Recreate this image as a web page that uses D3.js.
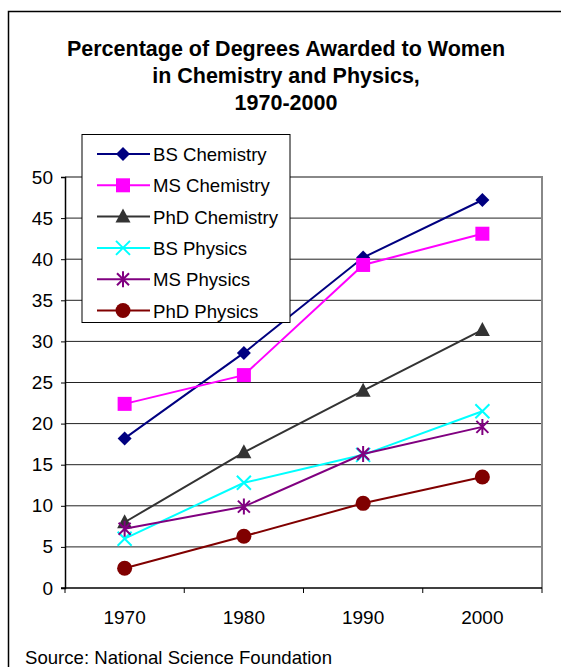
<!DOCTYPE html>
<html><head><meta charset="utf-8">
<script src="https://cdn.jsdelivr.net/npm/d3@7"></script>
<style>body{margin:0;background:#fff;}svg{display:block;font-family:"Liberation Sans",Arial,sans-serif;}</style>
</head><body>
<svg id="c" width="561" height="667"></svg>
<script>
const years = ["1970","1980","1990","2000"];
const seriesNames = ["BS Chemistry","MS Chemistry","PhD Chemistry","BS Physics","MS Physics","PhD Physics"];
const bsChemistry = [18.2, 28.6, 40.2, 47.2];
const msChemistry = [22.4, 25.9, 39.3, 43.1];
const phdChemistry = [8.0, 16.5, 24.0, 31.4];
const bsPhysics = [6.0, 12.8, 16.2, 21.5];
const msPhysics = [7.2, 9.9, 16.3, 19.6];
const phdPhysics = [2.4, 6.3, 10.3, 13.5];
const yTicks = [0,5,10,15,20,25,30,35,40,45,50];
const colors = ["#000080","#FF00FF","#333333","#00FFFF","#800080","#800000"];
const markers = ["diamond","square","triangle","x","star","circle"];
const titleLines = ["Percentage of Degrees Awarded to Women","in Chemistry and Physics,","1970-2000"];
const sourceText = "Source:  National Science Foundation";

const data = [bsChemistry, msChemistry, phdChemistry, bsPhysics, msPhysics, phdPhysics];

const svg = d3.select("#c");
svg.append("rect").attr("x",8.5).attr("y",11.5).attr("width",600).attr("height",700)
  .attr("fill","none").attr("stroke","#000").attr("stroke-width",1.5);

const L=65, R=542, T=177, B=588;
const x = d3.scaleBand().domain(years).range([L,R]);
const y = d3.scaleLinear().domain([0,50]).range([B,T]);

svg.append("g").selectAll("text").data(titleLines).join("text")
  .attr("x",286).attr("y",(d,i)=>55.5+i*27).attr("text-anchor","middle")
  .attr("font-size",21.5).attr("font-weight","bold").attr("fill","#000").text(d=>d);

svg.append("g").selectAll("line").data(yTicks.filter(v=>v>0)).join("line")
  .attr("x1",L).attr("x2",R).attr("y1",d=>y(d)).attr("y2",d=>y(d))
  .attr("stroke","#222").attr("stroke-width",1);
svg.append("path").attr("d",`M${L},${T}H${R}V${B}`).attr("fill","none").attr("stroke","#888").attr("stroke-width",2);

const yAxis = d3.axisLeft(y).tickValues(yTicks).tickSize(4).tickPadding(8).tickFormat(d3.format("d"));
const gy = svg.append("g").attr("transform",`translate(${L},0)`).call(yAxis);
gy.select(".domain").attr("stroke","#000").attr("stroke-width",1.5);
gy.selectAll(".tick line").attr("stroke","#000");
gy.selectAll("text").attr("font-size",19).attr("font-family","Liberation Sans, Arial, sans-serif").attr("fill","#000");

const xAxis = d3.axisBottom(x).tickSize(0).tickPadding(23);
const gx = svg.append("g").attr("transform",`translate(0,${B})`).call(xAxis);
gx.select(".domain").remove();
gx.selectAll("text").attr("font-size",19).attr("font-family","Liberation Sans, Arial, sans-serif").attr("fill","#000");
gx.append("line").attr("x1",L-4).attr("x2",R).attr("y1",0).attr("y2",0).attr("stroke","#000").attr("stroke-width",1.5);
const bounds = years.map(v=>x(v)).concat([R]);
gx.selectAll(".xt").data(bounds).join("line").attr("class","xt")
  .attr("x1",d=>d).attr("x2",d=>d).attr("y1",0).attr("y2",5).attr("stroke","#000");

function drawMarker(g, type, color, cx, cy){
  const s = g.append("g").attr("transform",`translate(${cx},${cy})`);
  if(type==="diamond") s.append("path").attr("d","M0,-7L7,0L0,7L-7,0Z").attr("fill",color);
  else if(type==="square") s.append("rect").attr("x",-7).attr("y",-7).attr("width",14).attr("height",14).attr("fill",color);
  else if(type==="triangle") s.append("path").attr("d","M0,-8L7.5,6L-7.5,6Z").attr("fill",color);
  else if(type==="x") s.append("path").attr("d","M-7,-7L7,7M-7,7L7,-7").attr("stroke",color).attr("stroke-width",2);
  else if(type==="star") s.append("path").attr("d","M-6,-6L6,6M-6,6L6,-6M0,-8V8").attr("stroke",color).attr("stroke-width",2);
  else if(type==="circle") s.append("circle").attr("r",7.5).attr("fill",color);
}

const line = d3.line().x((d,i)=>x(years[i])+x.bandwidth()/2).y(d=>y(d));
data.forEach((vals,k)=>{
  const g = svg.append("g");
  g.append("path").attr("d",line(vals)).attr("fill","none").attr("stroke",colors[k]).attr("stroke-width",2);
  vals.forEach((v,i)=>drawMarker(g, markers[k], colors[k], x(years[i])+x.bandwidth()/2, y(v)));
});

const lg = svg.append("g");
lg.append("rect").attr("x",82).attr("y",134.5).attr("width",208).attr("height",188)
  .attr("fill","#fff").attr("stroke","#000").attr("stroke-width",1);
seriesNames.forEach((n,k)=>{
  const yy = 154 + k*31.3;
  lg.append("line").attr("x1",97).attr("x2",150).attr("y1",yy).attr("y2",yy).attr("stroke",colors[k]).attr("stroke-width",2);
  drawMarker(lg, markers[k], colors[k], 123, yy);
  lg.append("text").attr("x",153).attr("y",yy+7).attr("font-size",18.6).attr("fill","#000").text(n);
});

svg.append("text").attr("x",25).attr("y",664).attr("font-size",18.6).attr("fill","#000").text(sourceText);
</script>
</body></html>
